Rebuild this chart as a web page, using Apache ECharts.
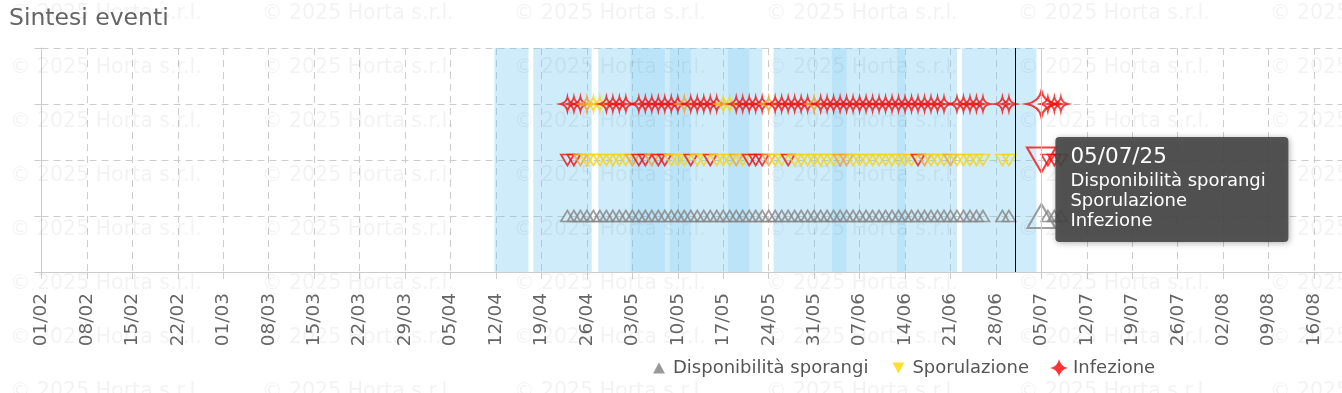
<!DOCTYPE html>
<html><head><meta charset="utf-8">
<script src="https://cdn.jsdelivr.net/npm/echarts@6/dist/echarts.min.js"></script>
<style>html,body{margin:0;padding:0;background:#fff}#c{width:1342px;height:393px}</style>
</head><body><div id="c"></div>
<script>
// ---- data ----
const tickLabels = ['01/02','08/02','15/02','22/02','01/03','08/03','15/03','22/03','29/03','05/04','12/04','19/04','26/04','03/05','10/05','17/05','24/05','31/05','07/06','14/06','21/06','28/06','05/07','12/07','19/07','26/07','02/08','09/08','16/08'];
const eventDates = [
 '23/04','24/04','25/04','26/04','27/04','28/04','29/04','30/04',
 '01/05','02/05','03/05','04/05','05/05','06/05','07/05','08/05','09/05','10/05','11/05','12/05','13/05','14/05','15/05','16/05','17/05','18/05','19/05','20/05','21/05','22/05','23/05','24/05','25/05','26/05','27/05','28/05','29/05','30/05','31/05',
 '01/06','02/06','03/06','04/06','05/06','06/06','07/06','08/06','09/06','10/06','11/06','12/06','13/06','14/06','15/06','16/06','17/06','18/06','19/06','20/06','21/06','22/06','23/06','24/06','25/06','26/06',
 '29/06','30/06','05/07','06/07','07/07','08/07'];
// level: 1 = yellow, 2 = orange, 3 = red, null = no event
const infezione = [
 3,3,3,2,1,1,3,3,
 3,3,null,3,3,3,3,3,3,3,2,3,3,3,3,3,1,1,3,3,3,3,3,2,3,3,3,3,3,3,2,
 3,3,3,3,3,3,3,3,3,3,3,3,3,3,3,3,3,3,3,3,null,3,3,3,3,3,
 3,3,3,3,3,3];
const sporulazione = [
 3,3,2,1,1,1,1,1,
 1,1,2,3,3,2,3,3,1,1,1,3,1,1,3,1,1,1,2,1,3,3,3,2,1,1,3,1,1,1,1,
 1,1,1,2,2,1,1,1,1,1,1,1,1,1,1,3,2,1,1,1,2,1,1,1,1,1,
 1,1,3,3,3,3];
const disponibilita = [
 1,1,1,1,1,1,1,1,
 1,1,1,1,1,1,1,1,1,1,1,1,1,1,1,1,1,1,1,1,1,1,1,1,1,1,1,1,1,1,1,
 1,1,1,1,1,1,1,1,1,1,1,1,1,1,1,1,1,1,1,1,1,1,1,1,1,1,
 1,1,1,1,1,1];
const highlightDate = '05/07';
const nowDate = '01/07';
// shaded periods, in days from 01/02
const bandsLight = [[69.75,75],[75.75,84.75],[85.75,111],[112.75,141],[141.75,153.25]];
const bandsDark = [[90.75,96],[96.75,100],[105.75,109],[121.75,124],[131.75,133]];
const seriesNames = ['Disponibilità sporangi','Sporulazione','Infezione'];
const tooltipLines = ['05/07/25','Disponibilità sporangi','Sporulazione','Infezione'];
const watermark = '© 2025 Horta s.r.l.';

// ---- helpers ----
const FONT = 'DejaVu Sans';
function dayIndex(s){const p=s.split('/').map(Number);return (Date.UTC(2025,p[1]-1,p[0])-Date.UTC(2025,1,1))/86400000;}
const levelColor = {1:'#f6d31a',2:'#f2a12c',3:'#f01010'};
const GRAY = '#868686';
const STAR = 'path://M0,-10 Q1.6,-1.6 10,0 Q1.6,1.6 0,10 Q-1.6,1.6 -10,0 Q-1.6,-1.6 0,-10 Z';
const TRI_UP = 'path://M6,0 L12,11 L0,11 Z';
const TRI_DOWN = 'path://M0,0 L12,0 L6,11 Z';

function buildItems(levels,row,gray,small,big){
  const out=[];
  eventDates.forEach((d,i)=>{
    const lv=levels[i]; if(lv==null) return;
    const hl = d===highlightDate;
    out.push({value:[dayIndex(d),row],symbolSize:hl?big:small,
      itemStyle:{color:'rgba(0,0,0,0)',borderColor:gray?GRAY:levelColor[lv],borderWidth:hl?2:1.8}});
  });
  return out;
}

const chart = echarts.init(document.getElementById('c'),null,{renderer:'canvas'});
const markerBase = {type:'scatter',silent:true,emphasis:{disabled:true},z:3,animation:false};
chart.setOption({
  animation:false,
  textStyle:{fontFamily:FONT},
  title:{text:'Sintesi eventi',left:9,top:7,padding:0,textStyle:{fontSize:23.5,fontWeight:'normal',color:'#666',fontFamily:FONT}},
  grid:{left:41.5,right:0,top:48,bottom:121},
  legend:{left:645,top:354,itemWidth:18,itemHeight:18,itemGap:21,selectedMode:false,
    textStyle:{fontSize:18,color:'#555',fontFamily:FONT},
    data:[
      {name:seriesNames[0],icon:'path://M-3,-3.5 M15,14.5 M6,0 L12,11 L0,11 Z',itemStyle:{color:'#808080',borderWidth:0}},
      {name:seriesNames[1],icon:'path://M-3,-3.5 M15,14.5 M0,0 L12,0 L6,11 Z',itemStyle:{color:'#ffd700',borderWidth:0}},
      {name:seriesNames[2],icon:'path://M0,-10 Q1.6,-1.6 10,0 Q1.6,1.6 0,10 Q-1.6,1.6 -10,0 Q-1.6,-1.6 0,-10 Z',itemStyle:{color:'#ff0000',borderWidth:0}}
    ]},
  xAxis:{type:'value',min:0,max:200.3,interval:7,
    axisLine:{lineStyle:{color:'#cccccc'}},
    axisTick:{show:true,length:9,lineStyle:{color:'#cccccc',type:[7,5]}},
    splitLine:{show:true,showMaxLine:false,lineStyle:{color:'#cccccc',type:[7,5]}},
    axisLabel:{rotate:90,margin:21,color:'#666',fontSize:18.5,fontFamily:FONT,showMaxLabel:false,
      formatter:v=>{const k=Math.round(v/7);return (Math.abs(v-k*7)<1e-6 && tickLabels[k])?tickLabels[k]:'';}}},
  yAxis:{type:'value',min:0,max:4,interval:1,
    axisLine:{show:true,lineStyle:{color:'#cccccc'}},
    axisTick:{show:true,length:9,lineStyle:{color:'#cccccc',type:[7,5]}},
    axisLabel:{show:false},
    splitLine:{show:true,lineStyle:{color:'#cccccc',type:[7,5]}}},
  series:[
    {type:'scatter',data:[],silent:true,z:1,
      markArea:{silent:true,itemStyle:{color:'rgba(115,198,240,0.34)'},data:bandsLight.map(b=>[{xAxis:b[0]},{xAxis:b[1]}])}},
    {type:'scatter',data:[],silent:true,z:1,
      markArea:{silent:true,itemStyle:{color:'rgba(115,198,240,0.22)'},data:bandsDark.map(b=>[{xAxis:b[0]},{xAxis:b[1]}])}},
    {type:'scatter',data:[],silent:true,z:2,
      markLine:{silent:true,symbol:'none',label:{show:false},animation:false,
        data:[{xAxis:dayIndex(nowDate),lineStyle:{color:'#000',width:1,type:'solid'}},
              {xAxis:dayIndex(highlightDate),lineStyle:{color:'#cccccc',width:1,type:'solid'}}]}},
    Object.assign({},markerBase,{name:seriesNames[0],symbol:TRI_UP,itemStyle:{color:'rgba(0,0,0,0)',borderColor:GRAY},
      data:buildItems(disponibilita,1,true,[13,11],[28,24])}),
    Object.assign({},markerBase,{name:seriesNames[1],symbol:TRI_DOWN,itemStyle:{color:'rgba(0,0,0,0)',borderColor:'#ffd700'},
      data:buildItems(sporulazione,2,false,[13,11],[29,25])}),
    Object.assign({},markerBase,{name:seriesNames[2],symbol:STAR,itemStyle:{color:'rgba(0,0,0,0)',borderColor:'#ff0000'},
      data:buildItems(infezione,3,false,[14,14],[30,26])})
  ]
});

// watermark + pinned tooltip
const g=[];
for(let r=0;r<8;r++){for(let c=0;c<6;c++){
  g.push({type:'text',silent:true,z:50,x:10+c*252,y:14+r*54,
    style:{text:watermark,font:'20.5px "'+FONT+'"',fill:'rgba(0,0,0,0.05)',verticalAlign:'middle',align:'left'}});
}}
const p = chart.convertToPixel({gridIndex:0},[dayIndex(highlightDate),3]);
const bx=p[0]+14, by=p[1]+33;
g.push({type:'rect',silent:true,z:60,shape:{x:bx,y:by,width:233,height:105,r:4},
  style:{fill:'rgba(70,70,70,0.9)',shadowBlur:6,shadowColor:'rgba(0,0,0,0.35)',shadowOffsetX:1,shadowOffsetY:1}});
const ty=[20.5,44.5,64.5,84.5];
tooltipLines.forEach((t,i)=>{
  g.push({type:'text',silent:true,z:61,x:bx+15,y:by+ty[i],
    style:{text:t,font:(i===0?'21.5px':'18px')+' "'+FONT+'"',fill:'#ffffff',verticalAlign:'middle',align:'left'}});
});
chart.setOption({graphic:g});
</script>
</body></html>
